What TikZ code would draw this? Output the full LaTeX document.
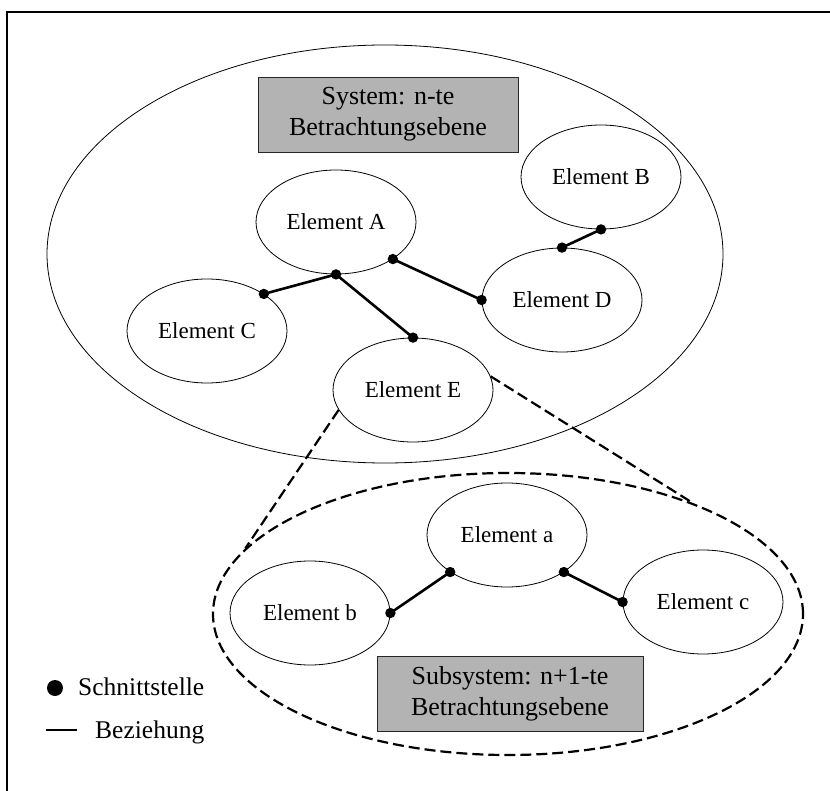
\documentclass[tikz,border=0pt]{standalone}
\usepackage{fontspec}
\setmainfont{Liberation Serif}
\usetikzlibrary{shapes.geometric}

\definecolor{boxgray}{RGB}{179,179,179}

\tikzset{
  elem/.style={ellipse, draw, line width=0.8pt, minimum width=160pt, minimum height=104pt,
               inner sep=0pt, font=\fontsize{23}{27}\selectfont},
  levelbox/.style={rectangle, draw=black!85, line width=0.9pt, fill=boxgray,
               minimum width=#1, minimum height=75pt, inner sep=0pt, align=center,
               font=\fontsize{26}{31}\selectfont},
  rel/.style={line width=2.6pt},
  port/.style={fill=black},
  zoomline/.style={line width=2.2pt, dash pattern=on 11pt off 5pt},
  legend/.style={anchor=base west, inner sep=0pt, font=\fontsize{25.5}{30}\selectfont}
}

\begin{document}
\begin{tikzpicture}[x=1pt, y=-1pt]
  \useasboundingbox (0,0) rectangle (830,791);
  \clip (0,0) rectangle (830,791);

  % frame around the figure
  \draw[line width=2pt] (7,12) rectangle (845,805);

  % level n: the system
  \node[ellipse, draw, line width=0.8pt, minimum width=676pt, minimum height=418pt] (sys) at (385,254) {};
  \node[levelbox=260pt] (sysbox) at (388,114.5) {System: n-te\\Betrachtungsebene};

  \node[elem] (A) at (336,222) {Element A};
  \node[elem] (B) at (601,177) {Element B};
  \node[elem] (C) at (207,331) {Element C};
  \node[elem] (D) at (562,300) {Element D};
  \node[elem] (E) at (413,390) {Element E};

  % relations between the elements
  \draw[rel] (A.south) -- (C.north east);
  \draw[rel] (A.south) -- (E.north);
  \draw[rel] (A.south east) -- (D.west);
  \draw[rel] (B.south) -- (D.north);
  \foreach \p in {A.south, C.north east, E.north, A.south east, D.west, B.south, D.north}
    \fill[port] (\p) circle (5.2pt);

  % level n+1: element E seen as a subsystem
  \node[ellipse, draw, zoomline, minimum width=590pt, minimum height=282pt] (sub) at (508,614) {};
  \draw[zoomline] (E.195) -- (sub.166.3);
  \draw[zoomline] (E.10) -- (sub.31.6);

  \node[elem] (a) at (507,535) {Element a};
  \node[elem] (b) at (310,613) {Element b};
  \node[elem] (c) at (703,602) {Element c};
  \node[levelbox=266pt] (subbox) at (510,693.5) {Subsystem: n+1-te\\Betrachtungsebene};

  \draw[rel] (a.south west) -- (b.east);
  \draw[rel] (a.south east) -- (c.west);
  \foreach \p in {a.south west, b.east, a.south east, c.west}
    \fill[port] (\p) circle (5.2pt);

  % legend
  \node[circle, fill=black, minimum size=16pt, inner sep=0pt] (ldot) at (55,688) {};
  \node[legend] (ltext1) at (78,695) {Schnittstelle};
  \coordinate (lline1) at (46,730);
  \coordinate (lline2) at (77,730);
  \draw[line width=1.4pt] (lline1) -- (lline2);
  \node[legend] (ltext2) at (95,738) {Beziehung};
\end{tikzpicture}
\end{document}
